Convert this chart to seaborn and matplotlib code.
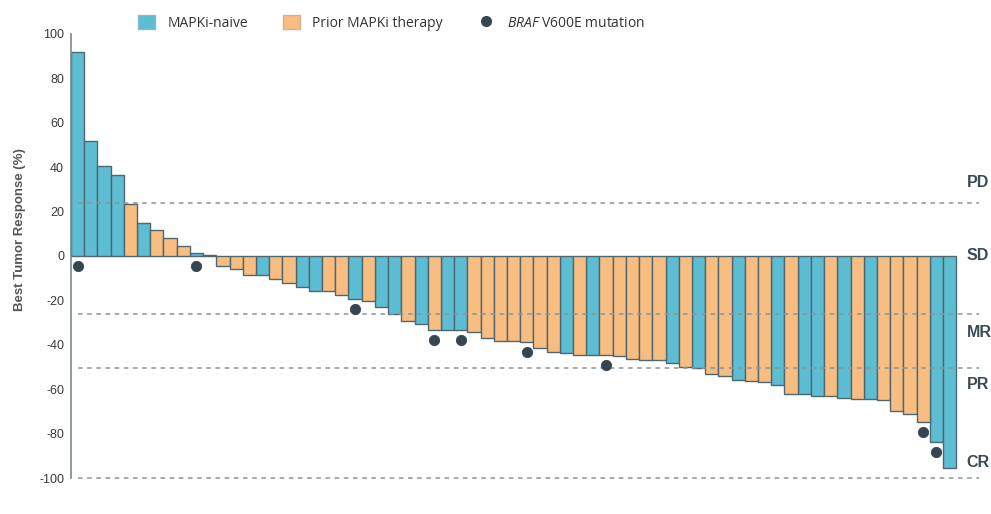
import pandas as pd
import seaborn as sns
import matplotlib.pyplot as plt
from matplotlib.patches import Patch
from matplotlib.lines import Line2D

# best tumor response per patient, sorted (waterfall)
response = [92, 52, 40.5, 36.5, 23.5, 15, 11.5, 8, 4.5, 1.5,
            0.5, -4.4, -6, -8.6, -8.6, -10.2, -12.3, -13.8, -16, -16,
            -17.6, -19.5, -20.3, -23, -26.3, -29.2, -30.5, -33.3, -33.3, -33.3,
            -34.3, -37, -38.2, -38.4, -38.8, -41.6, -43.1, -43.7, -44.5, -44.5,
            -44.8, -45.1, -46.3, -46.8, -46.8, -48.3, -49.8, -50.3, -53.2, -53.9,
            -55.9, -56.3, -56.6, -58.1, -62.3, -62.3, -62.9, -62.9, -63.8, -64.4,
            -64.4, -64.9, -69.7, -71.3, -74.6, -83.6, -95.4]
group = list('BBBBOBOOOBOOOOBOOBBOOBOBBOBOBBOOOOOOOBOBOOOOOBOBOOBOOBOBBOBOBOOOOBB')
braf = [1, 10, 22, 28, 30, 35, 41, 65, 66]  # 1-based patient positions with BRAF V600E

cutoffs = [24, -26, -50.5, -100]
resp_labels = ['PD', 'SD', 'MR', 'PR', 'CR']
resp_label_y = [33, 0, -34.5, -58, -93]

blue = '#5dbdd2'
orange = '#f8bd80'
edge = '#4e6770'
dark = '#36454f'

sns.set_style('white')
plt.rcParams['font.family'] = ['Liberation Sans', 'DejaVu Sans']
plt.rcParams['axes.unicode_minus'] = False
plt.rcParams['mathtext.fontset'] = 'custom'
plt.rcParams['mathtext.it'] = 'Open Sans:italic'
plt.rcParams['mathtext.rm'] = 'Open Sans'

df = pd.DataFrame({'pt': range(len(response)), 'resp': response,
                   'grp': ['MAPKi-naive' if g == 'B' else 'Prior MAPKi therapy' for g in group]})
dots = df.iloc[[b - 1 for b in braf]].copy()
dots['y'] = dots['resp'].clip(upper=0) - 4.5

fig = plt.figure(figsize=(9.91, 5.14), dpi=100)
ax = fig.add_axes([0.0716, 0.070, 0.916, 0.864])

sns.barplot(data=df, x='pt', y='resp', hue='grp', dodge=False, width=1.0, saturation=1,
            palette={'MAPKi-naive': blue, 'Prior MAPKi therapy': orange},
            edgecolor=edge, linewidth=1.0, legend=False, ax=ax)
sns.scatterplot(data=dots, x='pt', y='y', color=dark, s=55, marker='o',
                edgecolor=dark, legend=False, ax=ax, zorder=5)

for c in cutoffs:
    ax.plot([0.0, 68.2], [c, c], ls=(0, (3, 3)), color='#8a959b', lw=1.1,
            clip_on=False, zorder=3)
for lab, yy in zip(resp_labels, resp_label_y):
    ax.text(67.3, yy, lab, ha='left', va='center', fontsize=11.5,
            fontweight='bold', color='#3c4a52', clip_on=False)

ax.set_xlim(-0.5, 68.2)
ax.set_ylim(-100, 100)
ax.set_yticks(range(-100, 101, 20))
ax.tick_params(axis='y', length=3, color='#7d878c', labelsize=9, labelcolor='#3a3a3a', pad=2)
ax.set_xticks([])
ax.set_xlabel('')
ax.set_ylabel('Best Tumor Response (%)', fontsize=9.5, color='#555555', fontweight='bold')
ax.yaxis.set_label_coords(-0.05, 0.56)
for s in ['top', 'right', 'bottom']:
    ax.spines[s].set_visible(False)
ax.spines['left'].set_color('#7d878c')
ax.spines['left'].set_linewidth(1.2)

handles = [Patch(facecolor=blue, edgecolor='#8fb8c4', label='MAPKi-naive'),
           Patch(facecolor=orange, edgecolor='#d9b08a', label='Prior MAPKi therapy'),
           Line2D([], [], marker='o', ls='', color=dark, markersize=7,
                  label=r'$\it{BRAF}$ V600E mutation')]
leg = fig.legend(handles=handles, loc='center', bbox_to_anchor=(0.395, 0.956), ncol=3,
                 frameon=False, prop={'family': 'Open Sans', 'size': 10},
                 handlelength=1.2, handleheight=1.2, columnspacing=2.5, handletextpad=0.9)
for t in leg.get_texts():
    t.set_color('#333333')

fig.savefig('out.png', dpi=100)
